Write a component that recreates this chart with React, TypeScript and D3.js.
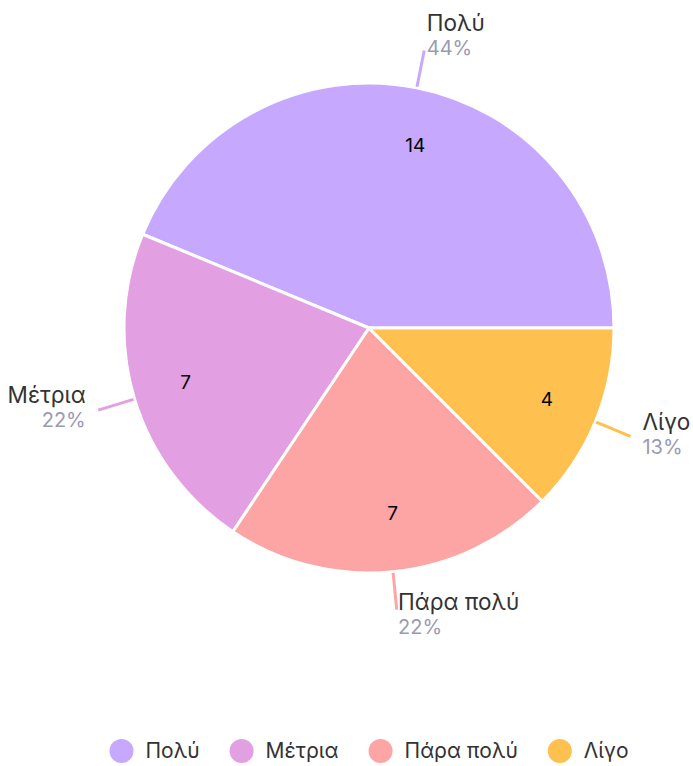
import * as d3 from 'd3';
import { useEffect, useRef } from 'react';

const categories = ['Πολύ', 'Μέτρια', 'Πάρα πολύ', 'Λίγο'];
const counts = [14, 7, 7, 4];
const colors = ['#c6a8fe', '#e2a0e3', '#fda4a5', '#fec150'];

const W = 693;
const H = 766;

export default function App() {
  const svgRef = useRef<SVGSVGElement>(null);

  useEffect(() => {
    if (!svgRef.current) return;
    const svg = d3.select(svgRef.current);
    svg.selectAll('*').remove();

    const cx = 369;
    const cy = 328;
    const radius = 245;
    const total = d3.sum(counts);

    const data = categories.map((c, i) => ({ name: c, value: counts[i], color: colors[i] }));

    // starts at 3 o'clock and runs counter-clockwise
    const pie = d3.pie<typeof data[0]>()
      .value(d => d.value)
      .sort(null)
      .startAngle(Math.PI / 2)
      .endAngle(Math.PI / 2 - 2 * Math.PI);

    const arc = d3.arc<d3.PieArcDatum<typeof data[0]>>().innerRadius(0).outerRadius(radius);
    const arcs = pie(data);

    const g = svg.append('g').attr('transform', `translate(${cx},${cy})`);

    g.selectAll('path.slice')
      .data(arcs)
      .join('path')
      .attr('class', 'slice')
      .attr('d', arc)
      .attr('fill', d => d.data.color)
      .attr('stroke', '#fff')
      .attr('stroke-width', 3)
      .attr('stroke-linejoin', 'round');

    const mid = (d: d3.PieArcDatum<typeof data[0]>) => (d.startAngle + d.endAngle) / 2;

    // value labels inside slices
    g.selectAll('text.value')
      .data(arcs)
      .join('text')
      .attr('class', 'value')
      .attr('x', d => Math.sin(mid(d)) * 186)
      .attr('y', d => -Math.cos(mid(d)) * 186)
      .attr('dy', '0.35em')
      .attr('text-anchor', d => (Math.sin(mid(d)) >= 0 ? 'start' : 'end'))
      .style('font-family', 'Inter, sans-serif')
      .style('font-size', '19px')
      .style('fill', '#000')
      .text(d => d.data.value);

    // leader lines
    const r2 = 283;
    g.selectAll('line.tick')
      .data(arcs)
      .join('line')
      .attr('class', 'tick')
      .attr('x1', d => Math.sin(mid(d)) * (radius + 1))
      .attr('y1', d => -Math.cos(mid(d)) * (radius + 1))
      .attr('x2', d => Math.sin(mid(d)) * r2)
      .attr('y2', d => -Math.cos(mid(d)) * r2)
      .attr('stroke', d => d.data.color)
      .attr('stroke-width', 3);

    const labels = g.selectAll('g.label')
      .data(arcs)
      .join('g')
      .attr('class', 'label')
      .attr('transform', d => {
        const a = mid(d);
        const x = Math.sin(a) * r2 + Math.sin(a) * 13;
        const y = -Math.cos(a) * r2 - 7 - 10 * Math.cos(a);
        return `translate(${x},${y})`;
      });

    labels.append('text')
      .attr('y', -3)
      .attr('text-anchor', d => (Math.sin(mid(d)) >= 0 ? 'start' : 'end'))
      .style('font-family', 'Inter, sans-serif')
      .style('font-size', '22.5px')
      .style('fill', '#333')
      .text(d => d.data.name);

    labels.append('text')
      .attr('y', 21)
      .attr('text-anchor', d => (Math.sin(mid(d)) >= 0 ? 'start' : 'end'))
      .style('font-family', 'Inter, sans-serif')
      .style('font-size', '20px')
      .style('fill', '#9a9ab2')
      .text(d => `${Math.round((d.data.value / total) * 100)}%`);

    // legend, centred under the pie
    const legend = svg.append('g');
    const items = legend.selectAll('g.item')
      .data(data)
      .join('g')
      .attr('class', 'item');
    items.append('circle')
      .attr('cx', 12)
      .attr('cy', 0)
      .attr('r', 12)
      .attr('fill', d => d.color);
    const texts = items.append('text')
      .attr('x', 36)
      .attr('dy', '0.35em')
      .style('font-family', 'Inter, sans-serif')
      .style('font-size', '21px')
      .style('fill', '#333')
      .text(d => d.name);

    let offset = 0;
    const widths: number[] = [];
    texts.each(function () {
      widths.push((this as SVGTextElement).getComputedTextLength());
    });
    items.attr('transform', (_d, i) => {
      const x = offset;
      offset += 36 + widths[i] + 30;
      return `translate(${x},0)`;
    });
    const legendWidth = offset - 30;
    legend.attr('transform', `translate(${cx - legendWidth / 2},751)`);
  }, []);

  return (
    <svg
      ref={svgRef}
      width={W}
      height={H}
      style={{ position: 'absolute', left: 0, top: 0, background: '#fff' }}
    />
  );
}
